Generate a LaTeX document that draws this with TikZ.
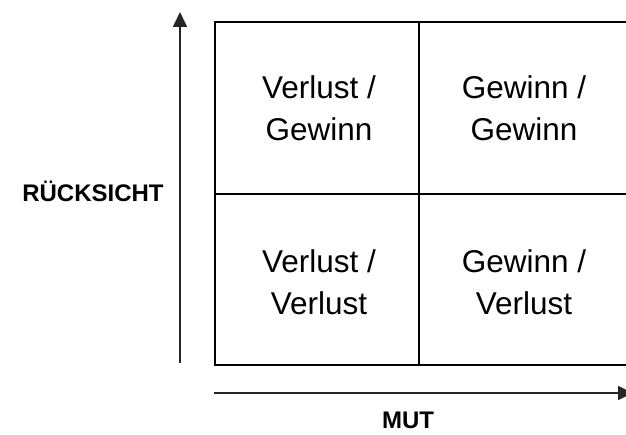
\documentclass[tikz,border=0pt]{standalone}
\usepackage{fontspec}
\setmainfont{Liberation Sans}
\usetikzlibrary{arrows.meta}
\begin{document}
\begin{tikzpicture}[x=1pt,y=1pt,
  gridline/.style={line width=2.2pt, black},
  axis/.style={line width=1.6pt, black!85, -{Triangle[length=15pt,width=14pt]}},
  celltext/.style={align=center, inner sep=0pt, font=\fontsize{31.5}{42}\selectfont},
  axislabel/.style={inner sep=0pt, anchor=base, font=\fontsize{24}{27}\selectfont\bfseries}]
  \useasboundingbox (0,0) rectangle (626,434);
  % grid corners and midpoints
  \coordinate (gsw) at (215,69);
  \coordinate (gne) at (627,412);
  \coordinate (mtop) at (419,412);
  \coordinate (mbot) at (419,69);
  \coordinate (mleft) at (215,240);
  \coordinate (mright) at (627,240);
  \draw[gridline] (gsw) rectangle (gne);
  \draw[gridline] (mtop) -- (mbot);
  \draw[gridline] (mleft) -- (mright);
  % axes
  \coordinate (ybot) at (180,71);
  \coordinate (ytop) at (180,422);
  \coordinate (xleft) at (214,41);
  \coordinate (xright) at (633,41);
  \draw[axis] (ybot) -- (ytop);
  \draw[axis] (xleft) -- (xright);
  % quadrant texts
  \node[celltext] (tl) at (319,326) {Verlust /\\Gewinn};
  \node[celltext] (tr) at (524,326) {Gewinn /\\Gewinn};
  \node[celltext] (bl) at (319,152) {Verlust /\\Verlust};
  \node[celltext] (br) at (524,152) {Gewinn /\\Verlust};
  % axis labels
  \node[axislabel] (lr) at (93,232) {RÜCKSICHT};
  \node[axislabel] (lm) at (408,6) {MUT};
\end{tikzpicture}
\end{document}
